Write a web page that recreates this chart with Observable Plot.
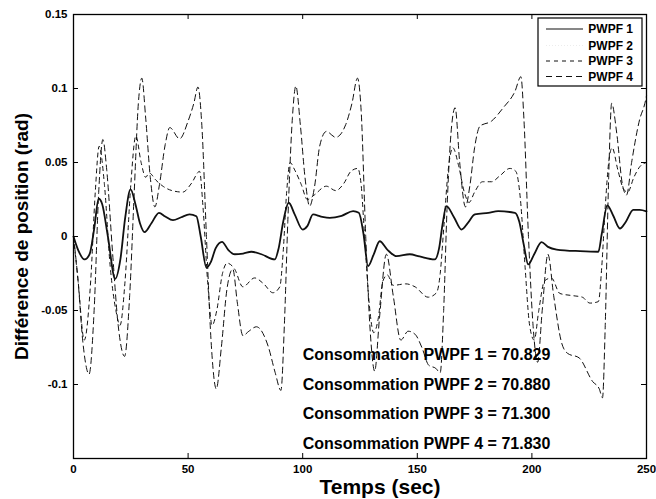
<!DOCTYPE html>
<html>
<head>
<meta charset="utf-8">
<script src="https://cdn.jsdelivr.net/npm/d3@7"></script>
<script src="https://cdn.jsdelivr.net/npm/@observablehq/plot@0.6"></script>
<style>
  html, body { margin: 0; padding: 0; background: #fff; }
  svg { display: block; }
</style>
</head>
<body>
<div id="chart"></div>
<script>
// ---------- data ----------
const seriesNames = ["PWPF 1", "PWPF 2", "PWPF 3", "PWPF 4"];
const consumption = ["70.829", "70.880", "71.300", "71.830"];
const xTicks = [0, 50, 100, 150, 200, 250];
const yTicks = [-0.1, -0.05, 0, 0.05, 0.1, 0.15];
const yTickLabels = ["-0.1", "-0.05", "0", "0.05", "0.1", "0.15"];
const xLabel = "Temps (sec)";
const yLabel = "Différence de position (rad)";
// annotation anchors (data coordinates, like MATLAB text(x,y,...))
const consX = 100;
const consY = [-0.08, -0.10, -0.12, -0.14];

// [time (s), position difference (rad)]
const pwpf1 = [[0,0],[2,-0.009],[4.8,-0.0155],[7,-0.012],[9,0.005],[11,0.0255],[12.5,0.022],[15,0.0],[18.2,-0.0286],[20.5,-0.015],
  [22.5,0.012],[24.9,0.0318],[27,0.022],[29,0.009],[31,0.003],[34,0.009],[37.3,0.016],[40,0.0135],[43.4,0.011],[47,0.013],
  [50.6,0.0149],[53.6,0.0137],[55.5,0.0],[58,-0.021],[60,-0.017],[62,-0.008],[64.8,-0.0036],[67.5,-0.009],[70.3,-0.012],[74,-0.0115],
  [77.6,-0.0103],[82,-0.012],[87.8,-0.0155],[89.5,-0.008],[91.5,0.010],[93.9,0.0228],[96.5,0.015],[100,0.0047],[102,0.007],[104.5,0.0149],
  [108,0.0135],[111.8,0.0126],[117,0.014],[122,0.0171],[124.5,0.016],[126.5,0.002],[128.5,-0.020],[131,-0.012],[133.6,-0.0032],[137,-0.009],
  [140.9,-0.0133],[146.7,-0.012],[151,-0.0135],[157.6,-0.0155],[159.5,-0.008],[161,0.008],[162.7,0.0205],[166,0.013],[169.3,0.0047],[172,0.009],
  [175.1,0.0149],[181,0.016],[185.3,0.0171],[192.6,0.016],[194.5,0.010],[196.5,-0.006],[198.4,-0.0189],[201,-0.012],[204.2,-0.0038],[207,-0.007],
  [210.8,-0.0088],[221,-0.0099],[229,-0.0103],[230.5,0.002],[232.9,0.021],[235.5,0.014],[238.4,0.0054],[241,0.010],[244.2,0.018],[247,0.018],[250,0.017]];

const pwpf2 = [[0,0],[2,-0.010],[4.8,-0.016],[7,-0.012],[9,0.006],[11,0.026],[12.5,0.022],[15,0.0],[18.2,-0.029],[20.5,-0.015],
  [22.5,0.013],[24.9,0.032],[27,0.022],[29,0.009],[31,0.003],[34,0.009],[37.3,0.016],[40,0.014],[43.4,0.011],[47,0.013],
  [50.6,0.015],[53.6,0.014],[55.5,0.0],[58,-0.021],[60,-0.017],[62,-0.008],[64.8,-0.004],[67.5,-0.009],[70.3,-0.012],[74,-0.012],
  [77.6,-0.010],[82,-0.012],[87.8,-0.016],[89.5,-0.008],[91.5,0.010],[93.9,0.023],[96.5,0.015],[100,0.005],[102,0.007],[104.5,0.015],
  [108,0.013],[111.8,0.013],[117,0.014],[122,0.017],[124.5,0.016],[126.5,0.002],[128.5,-0.020],[131,-0.012],[133.6,-0.003],[137,-0.009],
  [140.9,-0.013],[146.7,-0.012],[151,-0.014],[157.6,-0.016],[159.5,-0.008],[161,0.008],[162.7,0.021],[166,0.013],[169.3,0.005],[172,0.009],
  [175.1,0.015],[181,0.016],[185.3,0.017],[192.6,0.016],[194.5,0.010],[196.5,-0.006],[198.4,-0.019],[201,-0.012],[204.2,-0.004],[207,-0.007],
  [210.8,-0.009],[221,-0.010],[229,-0.010],[230.5,0.002],[232.9,0.021],[235.5,0.014],[238.4,0.005],[241,0.010],[244.2,0.018],[247,0.018],[250,0.017]];

const pwpf3 = [[0,0],[2,-0.03],[4.7,-0.07],[7.5,-0.03],[9.5,0.03],[11.2,0.061],[13.5,0.035],[16,-0.02],[18.5,-0.05],[20.3,-0.06],
  [22.5,-0.03],[25,0.035],[27.2,0.068],[29.5,0.05],[31.5,0.04],[33,0.043],[36,0.038],[39,0.034],[43,0.031],[47.7,0.030],
  [51.5,0.036],[55,0.044],[56.5,0.02],[58.5,-0.03],[60.5,-0.06],[62.5,-0.05],[65,-0.025],[67,-0.018],[70.3,-0.022],[73.9,-0.034],
  [79,-0.028],[83,-0.032],[87,-0.038],[90,-0.034],[91.5,-0.01],[93,0.03],[94.5,0.05],[96.5,0.045],[99.4,0.035],[102,0.025],
  [105,0.028],[110.3,0.034],[114.4,0.031],[118,0.036],[121,0.044],[124,0.046],[125.5,0.035],[127,0.0],[129,-0.045],[131,-0.065],
  [133,-0.055],[135,-0.03],[137,-0.026],[139.4,-0.033],[145,-0.032],[149,-0.034],[154.7,-0.041],[158.4,-0.038],[160,-0.025],[161.5,0.005],
  [163.5,0.045],[165.5,0.06],[168,0.048],[170.5,0.03],[172.6,0.023],[175,0.03],[178.5,0.037],[182.4,0.037],[186,0.041],[190.4,0.046],
  [193,0.044],[195,0.025],[197,-0.02],[199,-0.06],[201,-0.07],[203,-0.05],[205.5,-0.03],[208.5,-0.028],[212.2,-0.0385],[218,-0.040],
  [222,-0.041],[225.3,-0.045],[229,-0.044],[230.5,-0.02],[232,0.02],[233.5,0.05],[235,0.06],[237.5,0.045],[240,0.032],[241.8,0.03],
  [244.5,0.04],[247,0.047],[250,0.05]];

const pwpf4 = [[0,0],[2,-0.03],[4,-0.07],[6.8,-0.093],[9,-0.05],[11,0.03],[12.8,0.0655],[14.5,0.045],[17,-0.01],[19.5,-0.06],
  [22.3,-0.081],[24.5,-0.04],[26.5,0.03],[28.3,0.09],[29.8,0.107],[31.5,0.08],[33.5,0.04],[35.5,0.02],[37.5,0.035],[40,0.062],
  [42,0.0736],[46.3,0.066],[50,0.078],[52.5,0.09],[54.3,0.101],[56,0.075],[58,0.0],[60,-0.07],[62.3,-0.103],[64.5,-0.075],
  [67,-0.035],[69.5,-0.022],[71.5,-0.045],[73.9,-0.067],[76.5,-0.064],[79.8,-0.061],[84.9,-0.074],[88,-0.092],[90.5,-0.104],[92,-0.06],
  [93.5,0.01],[95.5,0.08],[97,0.1016],[99,0.075],[101,0.04],[103,0.0205],[105.2,0.034],[107.4,0.061],[110.3,0.071],[114.4,0.067],
  [118.8,0.0757],[121.5,0.09],[123.9,0.107],[125.5,0.085],[127.5,0.0],[129.5,-0.065],[131.4,-0.091],[133.5,-0.055],[136.5,-0.012],[139.5,-0.04],
  [142.8,-0.070],[146,-0.064],[149,-0.066],[152,-0.075],[155,-0.087],[158,-0.089],[160,-0.092],[161.5,-0.05],[163,0.02],[165,0.075],
  [166.5,0.087],[168.5,0.05],[171,0.02],[173,0.035],[175,0.06],[177.3,0.0745],[182.4,0.078],[187.5,0.087],[192.6,0.098],[195.2,0.108],
  [196.5,0.08],[198.5,0.0],[200.5,-0.06],[202.5,-0.085],[204.5,-0.05],[207,-0.012],[209.5,-0.04],[213,-0.072],[215.6,-0.079],[220.6,-0.082],
  [226.5,-0.098],[229.4,-0.103],[230.8,-0.109],[232,-0.06],[233.5,0.04],[234.8,0.09],[237,0.07],[239.5,0.035],[241.3,0.028],[243.5,0.05],
  [247,0.079],[249.3,0.09],[250,0.095]];

// ---------- build tables ----------
const seriesData = [pwpf1, pwpf2, pwpf3, pwpf4];
const rows = [];
seriesNames.forEach((name, i) => seriesData[i].forEach(([t, v]) => rows.push({t, v, s: name})));
const bySeries = name => rows.filter(d => d.s === name);
const consRows = consumption.map((c, i) => ({x: consX, y: consY[i], label: `Consommation ${seriesNames[i]} = ${c}`}));

// ---------- styles ----------
const FONT = "'Liberation Sans', Arial, Helvetica, sans-serif";
const INK = "#111";
const lineStyle = {
  "PWPF 1": {stroke: INK, strokeWidth: 1.8, dash: null},
  "PWPF 2": {stroke: "#ececec", strokeWidth: 1, dash: "1,2"},
  "PWPF 3": {stroke: INK, strokeWidth: 1, dash: "4,4"},
  "PWPF 4": {stroke: INK, strokeWidth: 1, dash: "6,4"}
};

const W = 656, H = 499, mL = 73, mR = 10, mT = 14, mB = 41;
const plotW = W - mL - mR, plotH = H - mT - mB;
const tickLen = 5;

const lineMark = name => Plot.line(bySeries(name), {
  x: "t", y: "v", curve: "monotone-x",
  stroke: lineStyle[name].stroke, strokeWidth: lineStyle[name].strokeWidth,
  strokeDasharray: lineStyle[name].dash || undefined
});

const chart = Plot.plot({
  width: W, height: H,
  marginLeft: mL, marginRight: mR, marginTop: mT, marginBottom: mB,
  style: {fontFamily: FONT, fontSize: "11.5px", fontWeight: "bold", color: "#000", background: "#fff", overflow: "visible"},
  x: {domain: [0, 250]},
  y: {domain: [-0.15, 0.15]},
  marks: [
    lineMark("PWPF 2"),
    lineMark("PWPF 4"),
    lineMark("PWPF 3"),
    lineMark("PWPF 1"),
    Plot.text(consRows, {x: "x", y: "y", text: "label", textAnchor: "start", lineAnchor: "middle",
      fontSize: 16, fontWeight: "bold", fill: "#000"}),
    Plot.frame({stroke: "#000", strokeWidth: 1.3}),
    // inward ticks on all four sides (MATLAB box style)
    Plot.ruleX(xTicks, {insetTop: plotH - tickLen, stroke: "#000", strokeWidth: 1}),
    Plot.ruleX(xTicks, {insetBottom: plotH - tickLen, stroke: "#000", strokeWidth: 1}),
    Plot.ruleY(yTicks, {insetRight: plotW - tickLen, stroke: "#000", strokeWidth: 1}),
    Plot.ruleY(yTicks, {insetLeft: plotW - tickLen, stroke: "#000", strokeWidth: 1}),
    Plot.axisX({ticks: xTicks, tickSize: 0, tickPadding: 6, label: null, tickFormat: d => String(d)}),
    Plot.axisY({ticks: yTicks, tickSize: 0, tickPadding: 6, label: null,
      tickFormat: d => yTickLabels[yTicks.indexOf(d)]}),
    Plot.text([xLabel], {text: d => d, frameAnchor: "bottom", dx: 20, dy: 29, textAnchor: "middle", lineAnchor: "middle",
      fontSize: 21, fontWeight: "bold", fill: "#000", ariaLabel: "xlabel"}),
    Plot.text([yLabel], {text: d => d, frameAnchor: "left", dx: -52, rotate: -90, textAnchor: "middle", lineAnchor: "middle",
      fontSize: 19, fontWeight: "bold", fill: "#000", ariaLabel: "ylabel"})
  ]
});

document.getElementById("chart").appendChild(chart);

// stretch axis labels to the widths seen in the reference
const svg = d3.select(chart);
svg.select('g[aria-label="xlabel"] text').attr("textLength", 141).attr("lengthAdjust", "spacingAndGlyphs");
svg.select('g[aria-label="ylabel"] text').attr("textLength", 228).attr("lengthAdjust", "spacingAndGlyphs");

// ---------- legend (inside the axes, top-right) ----------
const lg = svg.append("g").attr("class", "legend");
const lgX = 538, lgY = 18, lgW = 104, lgH = 68;
lg.append("rect").attr("x", lgX).attr("y", lgY).attr("width", lgW).attr("height", lgH)
  .attr("fill", "#fff").attr("stroke", "#000").attr("stroke-width", 1.2);
const rowY = [29, 45.5, 61, 76.5];
seriesNames.forEach((name, i) => {
  const st = lineStyle[name];
  lg.append("line").attr("x1", lgX + 8).attr("x2", lgX + 45).attr("y1", rowY[i]).attr("y2", rowY[i])
    .attr("stroke", st.stroke).attr("stroke-width", Math.min(st.strokeWidth, 1.2))
    .attr("stroke-dasharray", st.dash);
  lg.append("text").attr("x", lgX + lgW - 9).attr("y", rowY[i]).attr("text-anchor", "end")
    .attr("dominant-baseline", "central").attr("font-family", FONT).attr("font-size", 12)
    .attr("font-weight", "bold").attr("fill", "#000").text(name);
});
</script>
</body>
</html>
